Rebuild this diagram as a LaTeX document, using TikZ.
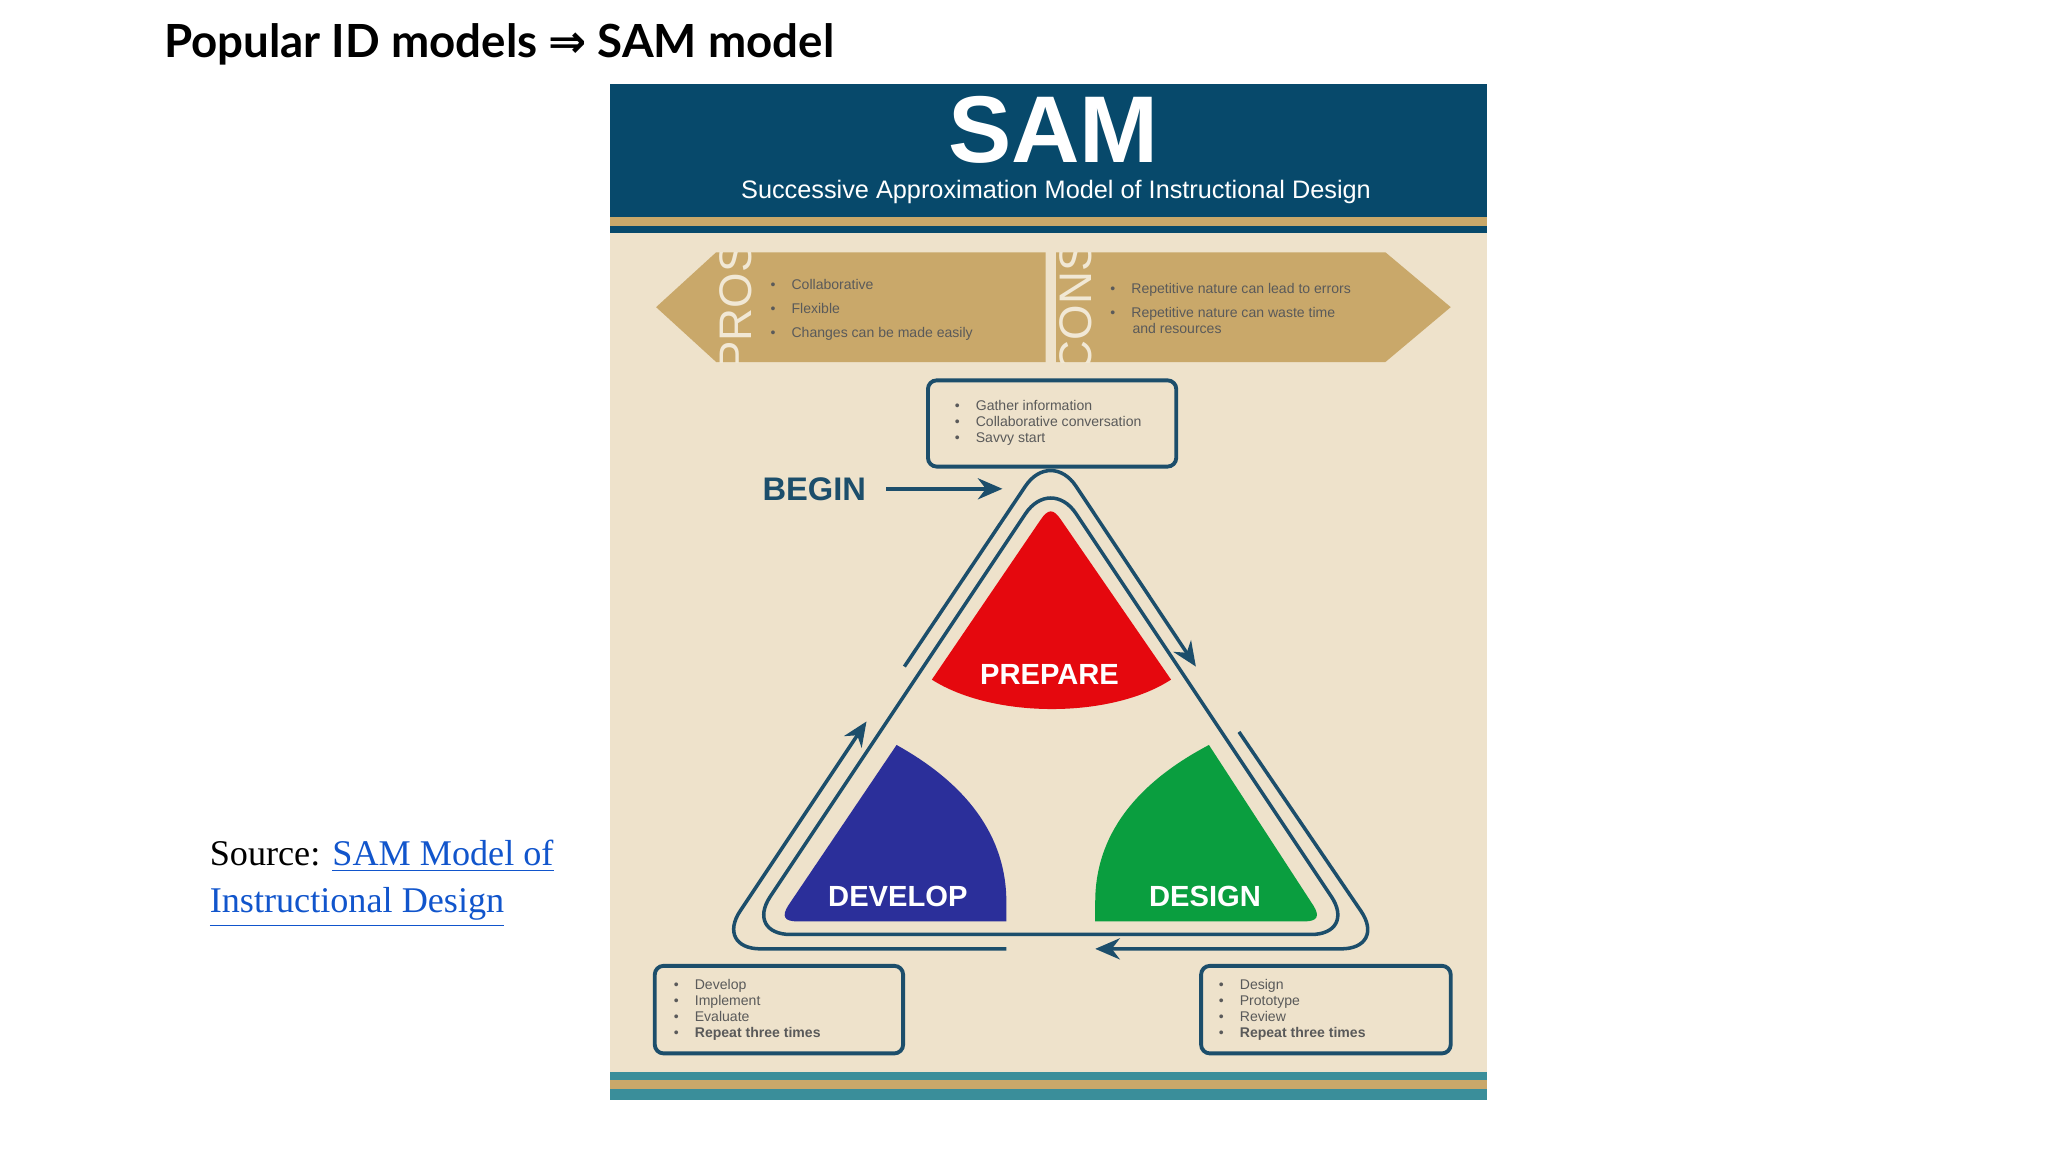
\documentclass[tikz,border=0pt]{standalone}
\usepackage{fontspec}
\setmainfont{Liberation Sans}
\newfontfamily\latofont{Lato}
\newfontfamily\tnr{Liberation Serif}
\newfontfamily\dejavu{DejaVu Sans}
\usetikzlibrary{arrows.meta}
\definecolor{hdr}{HTML}{07496B}
\definecolor{tan}{HTML}{C9A86A}
\definecolor{bg}{HTML}{EEE2CB}
\definecolor{ln}{HTML}{1C4E6B}
\definecolor{txt}{HTML}{5A5A5A}
\definecolor{redS}{HTML}{E5080E}
\definecolor{bluS}{HTML}{2B2F9A}
\definecolor{grnS}{HTML}{0A9E3F}
\definecolor{teal}{HTML}{3A8E9A}
\definecolor{lnk}{HTML}{1155CC}
\newcommand{\bl}[1]{\makebox[6pt][l]{•}#1}
\tikzset{
  track/.style={draw=ln, line width=1pt, rounded corners=13pt},
  arr/.style={-{Stealth[length=7pt,width=6pt]}},
  infobox/.style={draw=ln, line width=1.1pt, rounded corners=2.5pt},
  small/.style={font=\fontsize{4}{4.5}\selectfont, text=txt, align=left, anchor=north west, inner sep=0pt},
  sect/.style={font=\fontsize{8.3}{9}\selectfont\bfseries, text=white},
}
\begin{document}
\begin{tikzpicture}[x=0.013070cm,y=-0.013070cm]
\useasboundingbox (0,0) rectangle (1567,881.4);
\fill[white] (0,0) rectangle (1567,881.4);
% title
\node[font=\latofont\fontsize{13}{15}\selectfont\bfseries, anchor=west] (title) at (116,34) {Popular ID models {\dejavu\bfseries ⇒} SAM model};
% source
\node[font=\tnr\fontsize{10.3}{13.5}\selectfont, anchor=north west, align=left, inner sep=0pt] (src) at (160,642)
 {Source: \textcolor{lnk}{\underline{SAM Model of}}\\\textcolor{lnk}{\underline{Instructional Design}}};
% poster
\fill[bg] (467,64) rectangle (1138,842);
\fill[hdr] (467,64) rectangle (1138,166);
\fill[tan] (467,166) rectangle (1138,173);
\fill[hdr] (467,173) rectangle (1138,178);
\fill[teal] (467,820) rectangle (1138,826);
\fill[tan] (467,826) rectangle (1138,833);
\fill[teal] (467,833) rectangle (1138,842);
\node[font=\fontsize{27}{27}\selectfont\bfseries, text=white] (sam) at (806,99) {SAM};
\node[font=\fontsize{7.2}{8}\selectfont, text=white] (sub) at (808,147) {Successive Approximation Model of Instructional Design};
% pros / cons
\fill[tan] (502,235) -- (548,193) -- (800,193) -- (800,277) -- (548,277) -- cycle;
\fill[tan] (808,193) -- (1060,193) -- (1110,235) -- (1060,277) -- (808,277) -- cycle;
\begin{scope}
\clip (502,193) rectangle (1110,277);
\node[rotate=90, font=\fontsize{13}{13}\selectfont, text=bg!80!white] (pros) at (563,235) {PROS};
\node[rotate=90, font=\fontsize{13}{13}\selectfont, text=bg!80!white] (cons) at (823,235) {CONS};
\end{scope}
\node[small, font=\fontsize{4}{6.8}\selectfont] (prosl) at (589,213) {\bl{Collaborative}\\\bl{Flexible}\\\bl{Changes can be made easily}};
\node[small, font=\fontsize{4}{6.8}\selectfont] (consl) at (849,216) {\bl{Repetitive nature can lead to errors}\\\bl{Repetitive nature can waste time}};
\node[small] (consl2) at (866,247) {and resources};
% info boxes
\draw[infobox] (710,291) rectangle (900,357);
\node[small] (topl) at (730,306) {\bl{Gather information}\\\bl{Collaborative conversation}\\\bl{Savvy start}};
\draw[infobox] (501,739) rectangle (691,806);
\node[small] (botl) at (515,749) {\bl{Develop}\\\bl{Implement}\\\bl{Evaluate}\\\bl{\textbf{Repeat three times}}};
\draw[infobox] (919,739) rectangle (1110,806);
\node[small] (botr) at (932,749) {\bl{Design}\\\bl{Prototype}\\\bl{Review}\\\bl{\textbf{Repeat three times}}};
% begin
\node[font=\fontsize{9.3}{10}\selectfont\bfseries, text=ln] (begin) at (623,374) {BEGIN};
\coordinate (bend) at (767,374);
\draw[ln, line width=1pt, arr] (begin.east) ++(6,0) -- (bend);
% sectors
\fill[redS] (796,398) -- (713,520) .. controls (760,550) and (850,550) .. (896,520) -- (812,398) .. controls (806,389) and (802,389) .. cycle;
\fill[bluS] (686,570) -- (603,693) .. controls (598,701) and (600,705) .. (610,705) -- (770,705) -- (770,690) .. controls (770,640) and (740,600) .. (686,570);
\fill[grnS] (925,570) -- (1005,693) .. controls (1010,701) and (1008,705) .. (998,705) -- (838,705) -- (838,690) .. controls (838,640) and (868,600) .. (925,570);
\node[sect] (prep) at (803,516) {PREPARE};
\node[sect] (dev) at (687,686) {DEVELOP};
\node[sect] (des) at (922,686) {DESIGN};
% tracks
\draw[track] (804,364) -- (570,715) -- (1038,715) -- cycle;
\draw[track, arr] (692,510) -- (804,343) -- (915,510);
\draw[track, arr] (948,560) -- (1061,726) -- (838,726);
\draw[track, arr] (770,726) -- (547,726) -- (663,552);
\end{tikzpicture}
\end{document}
